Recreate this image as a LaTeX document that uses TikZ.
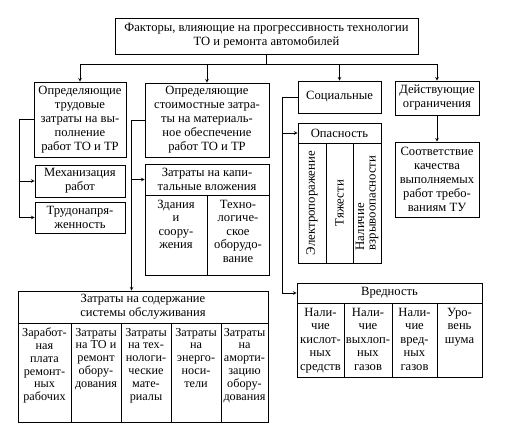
\documentclass[tikz,border=0pt]{standalone}
\usepackage{fontspec}
\setmainfont{Liberation Serif}
\usetikzlibrary{arrows,positioning,calc}

% column cell with text at the top
\newcommand{\topcell}[3]{\parbox[t][#2][t]{#1}{\centering #3\par}}

\begin{document}
\begin{tikzpicture}[
    x=1pt, y=-1pt,
    box/.style={rectangle, draw, line width=0.9pt, align=center, inner xsep=1pt, inner ysep=0pt, font=\fontsize{12.6}{14}\selectfont},
    cell/.style={rectangle, draw, line width=0.9pt, inner xsep=0pt, inner ysep=5pt, font=\fontsize{12.6}{13.5}\selectfont},
    smallcell/.style={cell, font=\fontsize{12.2}{12.8}\selectfont},
    vcell/.style={box, rotate=90, inner sep=0pt, minimum width=120pt, font=\fontsize{12.8}{11.5}\selectfont},
    arrow/.style={->, >=stealth, line width=0.6pt},
    link/.style={line width=0.6pt}
]
\useasboundingbox (0,0) rectangle (515,432);

% Title
\node[box, minimum width=303pt, minimum height=36pt] (top) at (266.5,36) {Факторы, влияющие на прогрессивность технологии\\ТО и ремонта автомобилей};

% Main groups
\node[box, minimum width=92pt, minimum height=75pt] (labour) at (80,119.5) {Определяющие\\трудовые\\затраты на вы-\\полнение\\работ ТО и ТР};
\node[box, minimum width=124pt, minimum height=74pt] (cost) at (207,120) {Определяющие\\стоимостные затра-\\ты на материаль-\\ное обеспечение\\работ ТО и ТР};
\node[box, minimum width=83pt, minimum height=32pt] (social) at (339.5,97) {Социальные};
\node[box, minimum width=84pt, minimum height=34pt] (limits) at (437,98) {Действующие\\ограничения};
\node[box, minimum width=84pt, minimum height=75pt] (quality) at (437,179.5) {Соответствие\\качества\\выполняемых\\работ требо-\\ваниям ТУ};

% Labour
\node[box, minimum width=90pt, minimum height=32pt] (mech) at (80,181) {Механизация\\работ};
\node[box, minimum width=90pt, minimum height=31pt] (intens) at (80,217.5) {Трудонапря-\\женность};

% Capital investments
\node[box, minimum width=124pt, minimum height=31pt] (capital) at (207,179.5) {Затраты на капи-\\тальные вложения};
\node[cell] (build) at (176,235) {\topcell{62pt}{70pt}{Здания\\и\\соору-\\жения}};
\node[cell] (equip) at (238,235) {\topcell{62pt}{70pt}{Техно-\\логиче-\\ское\\оборудо-\\вание}};

% Danger
\node[box, minimum width=83pt, minimum height=20pt] (danger) at (339.5,133) {Опасность};
\node[vcell, minimum height=28pt] (shock) at (312,203) {Электропоражение};
\node[vcell, minimum height=27pt] (heavy) at (339.5,203) {Тяжести};
\node[vcell, minimum height=28pt, align=left] (explos) at (367,203) {Наличие\\взрывоопасности};

% Harm
\node[box, minimum width=185pt, minimum height=20pt] (harm) at (389.5,293) {Вредность};
\node[cell] (acid) at (320.5,340) {\topcell{47pt}{64pt}{Нали-\\чие\\кислот-\\ных\\средств}};
\node[cell] (exhaust) at (368,340) {\topcell{48pt}{64pt}{Нали-\\чие\\выхлоп-\\ных\\газов}};
\node[cell] (gases) at (414.5,340) {\topcell{45pt}{64pt}{Нали-\\чие\\вред-\\ных\\газов}};
\node[cell] (noise) at (459.5,340) {\topcell{45pt}{64pt}{Уро-\\вень\\шума}};

% Maintenance system
\node[box, minimum width=250pt, minimum height=32pt] (maint) at (143,307) {Затраты на содержание\\системы обслуживания};
\node[smallcell] (wages) at (44.5,372.5) {\topcell{53pt}{89pt}{Заработ-\\ная\\плата\\ремонт-\\ных\\рабочих}};
\node[smallcell] (repair) at (96,372.5) {\topcell{50pt}{89pt}{Затраты\\на ТО и\\ремонт\\обору-\\дования}};
\node[smallcell] (mater) at (146,372.5) {\topcell{50pt}{89pt}{Затраты\\на тех-\\нологи-\\ческие\\мате-\\риалы}};
\node[smallcell] (energy) at (196,372.5) {\topcell{50pt}{89pt}{Затраты\\на\\энерго-\\носи-\\тели}};
\node[smallcell] (amort) at (244.5,372.5) {\topcell{47pt}{89pt}{Затраты\\на\\аморти-\\зацию\\обору-\\дования}};

% Arrows
\draw[link] (top.south) -- ++(0,10) coordinate (bus);
\draw[link] (bus -| labour.north) -- (bus -| limits.north);
\foreach \n in {labour,cost,social,limits}
  \draw[arrow] (bus -| \n.north) -- (\n.north);
\draw[arrow] (limits) -- (quality);

\draw[arrow] (labour.west) -- ++(-14,0) |- (mech.west);
\draw[arrow] (labour.west) -- ++(-14,0) |- (intens.west);

\draw[arrow] (cost.west) -- ++(-13,0) |- (capital.west);
\draw[arrow] (cost.west) -- ++(-13,0) coordinate (costleft) -- (costleft |- maint.north);

\draw[arrow] (social.west) -- ++(-15,0) |- (danger.west);
\draw[arrow] (social.west) -- ++(-15,0) |- (harm.west);

\end{tikzpicture}
\end{document}
